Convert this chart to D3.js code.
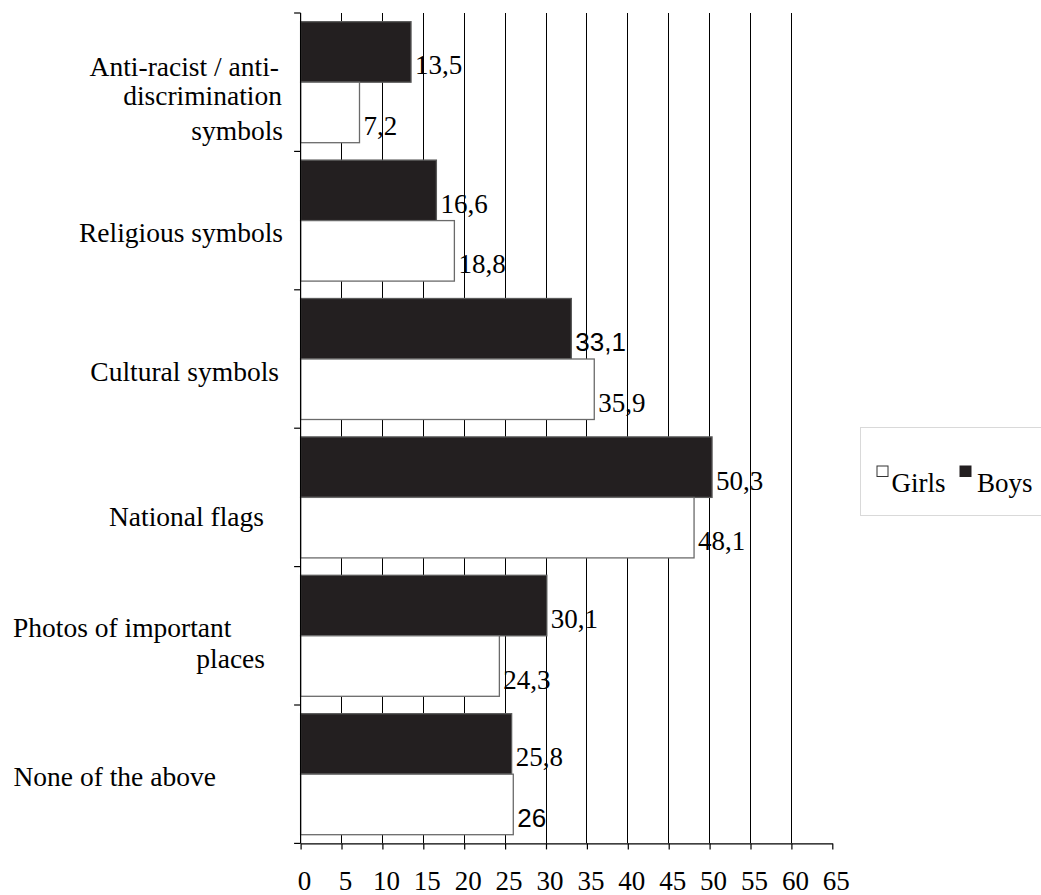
<!DOCTYPE html>
<html>
<head>
<meta charset="utf-8">
<script src="https://cdn.jsdelivr.net/npm/d3@7"></script>
<style>
  html, body { margin: 0; padding: 0; background: #ffffff; }
  svg { display: block; }
  svg text { font-family: "Liberation Serif", "Times New Roman", Tinos, "Nimbus Roman", "DejaVu Serif", serif; }
  svg text.sans { font-family: "Liberation Sans", Arial, Arimo, "DejaVu Sans", sans-serif; }
</style>
</head>
<body>
<svg id="chart" width="1041" height="895"></svg>
<script>
// Categories, top to bottom
const categories = [
  "Anti-racist / anti-discrimination symbols",
  "Religious symbols",
  "Cultural symbols",
  "National flags",
  "Photos of important places",
  "None of the above"
];

// How each category name is broken onto lines
const categoryLines = [
  ["Anti-racist / anti-", "discrimination", "symbols"],
  ["Religious symbols"],
  ["Cultural symbols"],
  ["National flags"],
  ["Photos of important", "places"],
  ["None of the above"]
];

const series = ["Boys", "Girls"];
const boysValues  = [13.5, 16.6, 33.1, 50.3, 30.1, 25.8];
const girlsValues = [7.2, 18.8, 35.9, 48.1, 24.3, 26];

const xTickValues = [0, 5, 10, 15, 20, 25, 30, 35, 40, 45, 50, 55, 60, 65];
const legendItems = ["Girls", "Boys"];

// ---- styling / layout ----
const BLACK = "#231f20";
const seriesFill = { Boys: BLACK, Girls: "#ffffff" };
const seriesStroke = { Boys: "#5a5a5a", Girls: "#6a6a6a" };

// Per-line placement of the category names (x anchor, baseline offset within band)
const labelPlacement = [
  [{ anchor: "end", x: 279, dy: 63 }, { anchor: "end", x: 282, dy: 92 }, { anchor: "end", x: 283, dy: 127 }],
  [{ anchor: "end", x: 283, dy: 91 }],
  [{ anchor: "end", x: 279, dy: 91 }],
  [{ anchor: "end", x: 264, dy: 98 }],
  [{ anchor: "start", x: 13, dy: 70.5 }, { anchor: "end", x: 265, dy: 101.5 }],
  [{ anchor: "start", x: 13.5, dy: 81 }]
];

// A couple of value labels are set in a sans face
const sansLabels = new Set(["Boys|Cultural symbols", "Girls|None of the above"]);

const svg = d3.select("#chart");

const x = d3.scaleLinear().domain([0, 65]).range([300.6, 832.3]);
const y = d3.scaleBand().domain(categories).range([13, 843.4]).padding(0);
const ySub = d3.scaleBand().domain(series).range([0, y.bandwidth()])
  .paddingInner(0).paddingOuter(0.1438);

const yTop = y.range()[0];
const yBottom = y.range()[1];

// Vertical gridlines
svg.append("g").attr("class", "grid")
  .selectAll("line")
  .data(xTickValues.filter(v => v > 0 && v < 65))
  .join("line")
  .attr("x1", d => x(d)).attr("x2", d => x(d))
  .attr("y1", yTop).attr("y2", yBottom)
  .attr("stroke", "#000").attr("stroke-width", 1)
  .attr("shape-rendering", "crispEdges");

// Bars
const rows = categories.map((c, i) => ({
  category: c,
  values: [
    { key: "Boys", value: boysValues[i] },
    { key: "Girls", value: girlsValues[i] }
  ]
}));

const fmt = v => String(v).replace(".", ",");

const groups = svg.append("g").attr("class", "bars")
  .selectAll("g")
  .data(rows)
  .join("g")
  .attr("transform", d => `translate(0,${y(d.category)})`);

groups.selectAll("rect")
  .data(d => d.values)
  .join("rect")
  .attr("x", x(0))
  .attr("y", d => ySub(d.key))
  .attr("width", d => x(d.value) - x(0))
  .attr("height", ySub.bandwidth())
  .attr("fill", d => seriesFill[d.key])
  .attr("stroke", d => seriesStroke[d.key])
  .attr("stroke-width", 1.3);

// Value labels
groups.selectAll("text.value")
  .data(d => d.values.map(v => ({ ...v, category: d.category })))
  .join("text")
  .attr("class", d => sansLabels.has(d.key + "|" + d.category) ? "value sans" : "value")
  .attr("x", d => x(d.value) + 4)
  .attr("y", d => ySub(d.key) + ySub.bandwidth() / 2 + 22.5)
  .style("font-size", d => sansLabels.has(d.key + "|" + d.category) ? "26px" : "27px")
  .attr("fill", "#000")
  .text(d => fmt(d.value));

// Left axis: line plus ticks at category boundaries
const boundaries = categories.map(c => y(c)).concat([yBottom]);
const leftAxis = svg.append("g").attr("class", "y-axis");
leftAxis.append("line")
  .attr("x1", x(0)).attr("x2", x(0))
  .attr("y1", yTop).attr("y2", yBottom)
  .attr("stroke", "#000").attr("stroke-width", 1.2);
leftAxis.selectAll("line.tick")
  .data(boundaries)
  .join("line")
  .attr("class", "tick")
  .attr("x1", x(0) - 6.5).attr("x2", x(0))
  .attr("y1", d => d).attr("y2", d => d)
  .attr("stroke", "#000").attr("stroke-width", 1.2);

// Category names
categories.forEach((c, i) => {
  categoryLines[i].forEach((line, j) => {
    const p = labelPlacement[i][j];
    svg.append("text")
      .attr("class", "category")
      .attr("x", p.x)
      .attr("y", y(c) + p.dy)
      .attr("text-anchor", p.anchor)
      .style("font-size", "27.5px")
      .attr("fill", "#000")
      .text(line);
  });
});

// Bottom axis
const xAxis = d3.axisBottom(x)
  .tickValues(xTickValues)
  .tickSize(6)
  .tickSizeOuter(0)
  .tickPadding(0)
  .tickFormat(d3.format("d"));

const gx = svg.append("g")
  .attr("class", "x-axis")
  .attr("transform", `translate(0,${yBottom})`)
  .call(xAxis)
  .attr("font-family", null)
  .attr("font-size", null);

gx.select(".domain").attr("stroke", "#000").attr("stroke-width", 1.2);
gx.selectAll(".tick line").attr("stroke", "#000").attr("stroke-width", 1.2);
gx.selectAll(".tick text")
  .style("font-size", "27px")
  .attr("fill", "#000")
  .attr("dy", null)
  .attr("x", 3.5)
  .attr("y", 890 - yBottom);

// Legend
const legend = svg.append("g").attr("class", "legend");
legend.append("rect")
  .attr("x", 860.5).attr("y", 427.5)
  .attr("width", 200).attr("height", 88)
  .attr("fill", "#fff")
  .attr("stroke", "#d9d9d9").attr("stroke-width", 1);

const legendPos = { Girls: { sx: 877, tx: 891.5 }, Boys: { sx: 960, tx: 977 } };
legendItems.forEach(k => {
  const p = legendPos[k];
  legend.append("rect")
    .attr("x", p.sx).attr("y", 466)
    .attr("width", 11).attr("height", 10.5)
    .attr("fill", seriesFill[k])
    .attr("stroke", k === "Girls" ? "#333" : BLACK)
    .attr("stroke-width", 1);
  legend.append("text")
    .attr("x", p.tx).attr("y", 491.7)
    .style("font-size", "27px")
    .attr("fill", "#000")
    .text(k);
});
</script>
</body>
</html>
